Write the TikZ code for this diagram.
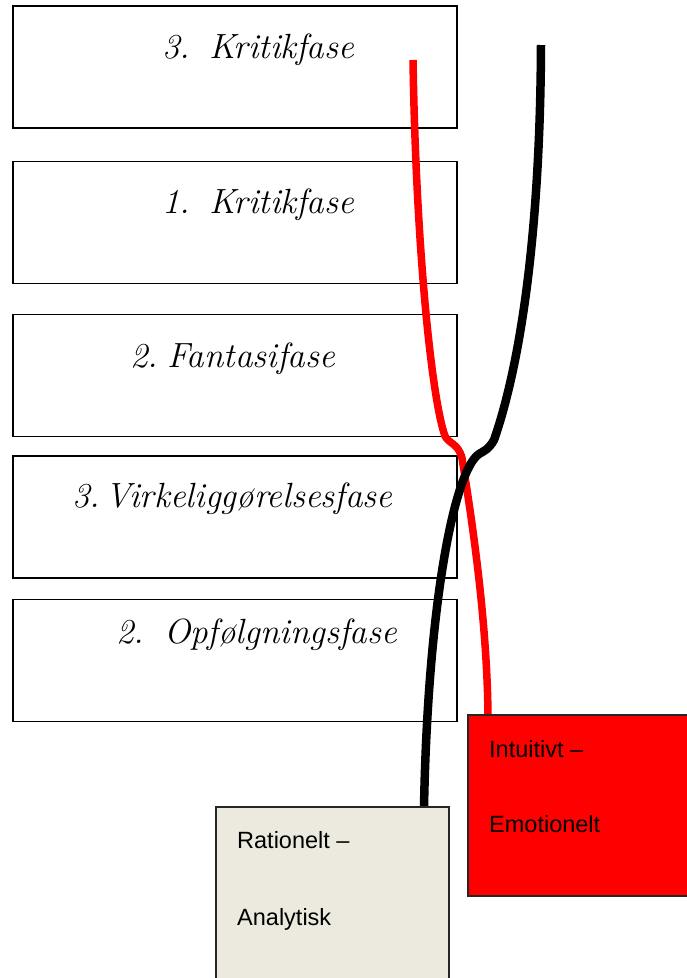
\documentclass[tikz,border=0pt]{standalone}
\usepackage{fontspec}
\newfontfamily\sansfam{Liberation Sans}
\usetikzlibrary{calc}
\pgfdeclarelayer{front}
\pgfsetlayers{main,front}
\definecolor{beige}{RGB}{236,233,223}
\begin{document}
\begin{tikzpicture}[x=1pt,y=-1pt,
  phase/.style={draw=black, line width=1.5pt, fill=white, minimum width=444pt,
    minimum height=122pt, inner sep=0pt, outer sep=0pt},
  title/.style={anchor=base west, inner sep=0pt, font=\fontsize{35}{40}\selectfont\itshape},
  mode/.style={draw=black!85, line width=1.5pt, inner sep=0pt, outer sep=0pt},
  label/.style={anchor=base west, inner sep=0pt, font=\sansfam\fontsize{23.5}{28}\selectfont},
  redline/.style={draw=red, line width=7.5pt},
  blackline/.style={draw=black, line width=8.5pt}]
\useasboundingbox (0,0) rectangle (686,978);

% phase boxes
\node[phase] (p1) at (235,67) {};
\node[phase] (p2) at (235,222.5) {};
\node[phase] (p3) at (235,375.5) {};
\node[phase] (p4) at (235,517) {};
\node[phase] (p5) at (235,660.5) {};

\node[title] (t1) at (162,58)  {3.\hspace{19pt}Kritikfase};
\node[title] (t2) at (162,213) {1.\hspace{19pt}Kritikfase};
\node[title] (t3) at (130,367) {2.\hspace{9pt}Fantasifase};
\node[title] (t4) at (72,507)  {3.\hspace{5pt}Virkeliggørelsesfase};
\node[title] (t5) at (116,643) {2.\hspace{20pt}Opfølgningsfase};

% the two thinking modes
\begin{pgfonlayer}{front}
\node[mode, fill=red, minimum width=240pt, minimum height=181pt] (intu) at (588,805.5) {};
\node[mode, fill=beige, minimum width=233pt, minimum height=203pt] (ratio) at (332.5,908.5) {};
\node[label] (l1) at (489,757) {Intuitivt –};
\node[label] (l2) at (489,832) {Emotionelt};
\node[label] (l3) at (237,848) {Rationelt –};
\node[label] (l4) at (237,925) {Analytisk};
\end{pgfonlayer}

% curves
\coordinate (rtop) at (413,60);
\coordinate (btop) at (541,45);
\coordinate (rend) at ($(intu.north west)+(20,0)$);
\coordinate (bend) at ($(ratio.north east)+(-25,0)$);

\draw[redline] (rtop) .. controls (416,250) and (432,400) .. (445,436)
  .. controls (449,444) and (458,443) .. (462,458)
  .. controls (472,520) and (487,620) .. (rend);
\draw[blackline] (btop) .. controls (540,260) and (515,380) .. (494,440)
  .. controls (489,449) and (484,451) .. (479,454)
  .. controls (455,470) and (428,600) .. (bend);
\end{tikzpicture}
\end{document}
